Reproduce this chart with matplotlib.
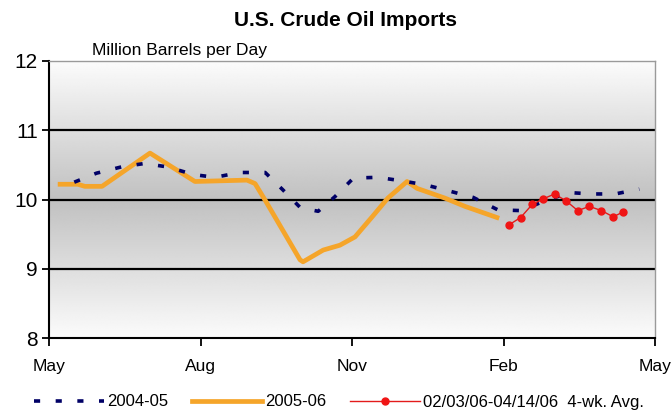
import matplotlib
matplotlib.use("Agg")
import matplotlib.pyplot as plt
import numpy as np
from matplotlib import font_manager

# ---- data (x in months since May 1) ----
months_ticks = [0, 3, 6, 9, 12]
month_labels = ["May", "Aug", "Nov", "Feb", "May"]
y_ticks = [8, 9, 10, 11, 12]

x_0405 = [0.50, 0.94, 1.43, 1.89, 2.35, 2.86, 3.29, 3.77, 4.28, 4.63, 4.98, 5.33,
          5.66, 6.03, 6.51, 6.98, 7.46, 7.94, 8.40, 8.89, 9.34, 9.82, 10.30, 10.75,
          11.21, 11.69]
y_0405 = [10.25, 10.38, 10.47, 10.52, 10.47, 10.36, 10.32, 10.39, 10.39, 10.14, 9.88, 9.83,
          10.04, 10.31, 10.32, 10.27, 10.21, 10.12, 10.03, 9.85, 9.84, 9.98, 10.10, 10.08,
          10.08, 10.15]

x_0506 = [0.22, 0.57, 0.71, 1.05, 2.00, 2.89, 3.92, 4.08, 4.28, 4.97, 5.03, 5.43,
          5.76, 6.06, 6.40, 6.71, 7.09, 7.29, 7.84, 8.24, 8.87]
y_0506 = [10.22, 10.22, 10.19, 10.19, 10.67, 10.26, 10.28, 10.23, 9.99, 9.13, 9.10, 9.27,
          9.34, 9.46, 9.75, 10.02, 10.26, 10.16, 10.02, 9.90, 9.74]

x_avg = [9.10, 9.34, 9.57, 9.79, 10.01, 10.24, 10.47, 10.70, 10.94, 11.17, 11.37]
y_avg = [9.63, 9.74, 9.93, 10.01, 10.08, 9.98, 9.84, 9.90, 9.84, 9.75, 9.82]

names = ["2004-05", "2005-06", "02/03/06-04/14/06  4-wk. Avg."]

# ---- fonts ----
avail = {f.name for f in font_manager.fontManager.ttflist}
fam = "Liberation Sans Narrow" if "Liberation Sans Narrow" in avail else "Liberation Sans"
plt.rcParams["font.family"] = [fam, "DejaVu Sans"]

fig = plt.figure(figsize=(6.71, 4.2), dpi=100)
ax = fig.add_axes([49/671, 1-338/420, (655-49)/671, (338-61)/420])

# gradient background
yy = np.linspace(12, 8, 400)
v = 0.985 - 0.23 * np.clip(1 - np.abs(yy - 10) / 2, 0, 1)
img = np.repeat(v[:, None], 2, axis=1)
ax.imshow(img, extent=[0, 12, 8, 12], aspect="auto", cmap="gray", vmin=0, vmax=1,
          zorder=0, interpolation="bilinear")

for g in [9, 10, 11]:
    ax.axhline(g, color="black", lw=1.6, zorder=1)

l1, = ax.plot(x_0405, y_0405, color="#000066", lw=2.6, zorder=3, label=names[0])
l1.set_dashes((1.7, 4.3))
l2, = ax.plot(x_0506, y_0506, color="#F5A52A", lw=3.4, zorder=2, label=names[1],
              solid_joinstyle="round")
l3, = ax.plot(x_avg, y_avg, color="#E31B1B", lw=1.0, marker="o", ms=5,
              markerfacecolor="#F01515", markeredgecolor="#F01515", zorder=4, label=names[2])

ax.set_xlim(0, 12)
ax.set_ylim(8, 12)
ax.set_xticks(months_ticks)
ax.set_xticklabels(month_labels, fontsize=12.5)
ax.set_yticks(y_ticks)
ax.set_yticklabels([str(t) for t in y_ticks], fontsize=15)
ax.tick_params(axis="x", direction="out", length=6, width=1.3, pad=9)
ax.tick_params(axis="y", direction="out", length=5, width=1.3, pad=3)

for s in ["left", "bottom"]:
    ax.spines[s].set_color("black")
    ax.spines[s].set_linewidth(1.5)
for s in ["top", "right"]:
    ax.spines[s].set_color("#9a9a9a")
    ax.spines[s].set_linewidth(1.0)

fig.text(345/671, 1-20/420, "U.S. Crude Oil Imports", ha="center", va="center",
         fontsize=15, fontweight="bold")
fig.text(92/671, 1-50/420, "Million Barrels per Day", ha="left", va="center", fontsize=12.5)

fig.legend(handles=[l1, l2, l3], labels=names, loc="center", ncol=3,
           bbox_to_anchor=(0.505, 1-402/420), frameon=False, fontsize=12,
           handlelength=4.2, handletextpad=0.2, columnspacing=1.4, markerscale=1.0)

fig.savefig("out.png", dpi=100)
